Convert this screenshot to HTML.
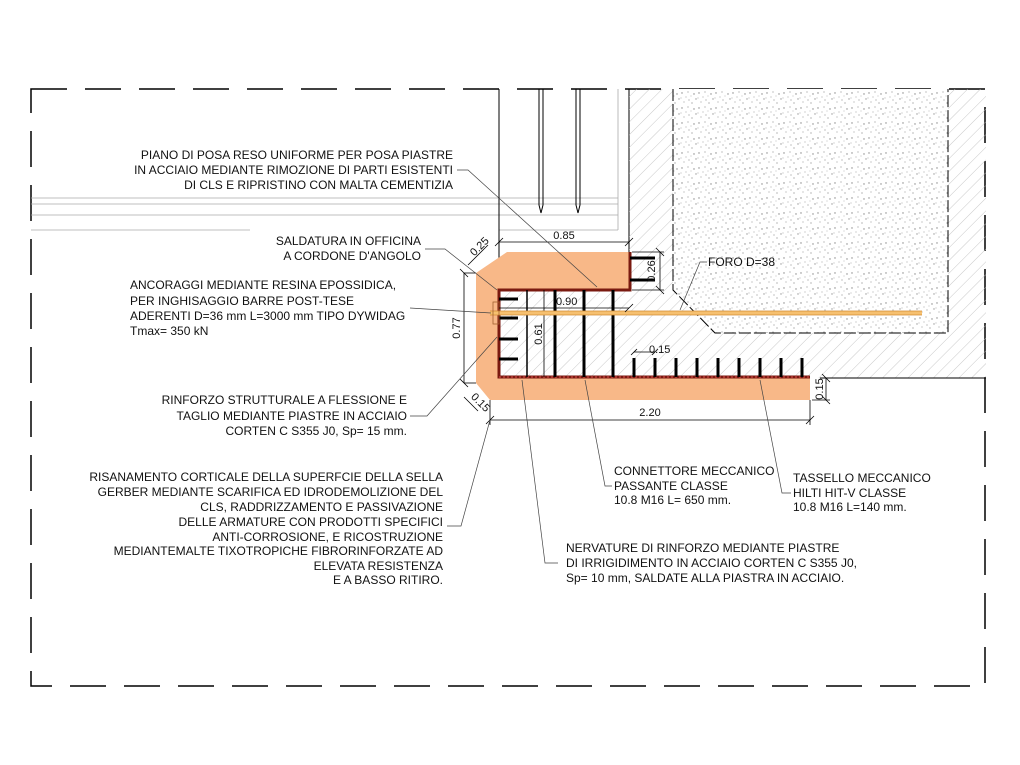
<!DOCTYPE html>
<html><head><meta charset="utf-8"><style>
html,body{margin:0;padding:0;background:#fff;}
svg{display:block;}
text{font-family:"Liberation Sans",sans-serif;font-size:12px;fill:#111;}
.d{font-size:11px;}
</style></head><body>
<svg width="1020" height="765" viewBox="0 0 1020 765" xmlns="http://www.w3.org/2000/svg">
<defs>
<pattern id="h" width="9" height="9" patternUnits="userSpaceOnUse" patternTransform="rotate(45)">
<line x1="0" y1="0" x2="0" y2="9" stroke="#bbb" stroke-width="0.8"/>
</pattern>
<pattern id="dots" width="17" height="15" patternUnits="userSpaceOnUse">
<rect width="17" height="15" fill="#fff"/>
<circle cx="2" cy="3" r="0.7" fill="#888"/><circle cx="9" cy="10" r="0.6" fill="#999"/>
<circle cx="14" cy="4" r="0.7" fill="#888"/><circle cx="12" cy="13" r="0.6" fill="#888"/>
<circle cx="4" cy="12" r="0.6" fill="#aaa"/><circle cx="16" cy="9" r="0.7" fill="#999"/>
<circle cx="8" cy="2" r="0.6" fill="#999"/><circle cx="6" cy="7" r="0.5" fill="#888"/>
<circle cx="11" cy="6" r="0.5" fill="#aaa"/><circle cx="1" cy="8" r="0.5" fill="#999"/>
</pattern>
</defs>

<rect x="31" y="89" width="954" height="597" fill="none" stroke="#000" stroke-width="1.5" stroke-dasharray="36 18"/>

<g stroke="#aaa" stroke-width="0.8" fill="none">
<line x1="31" y1="198" x2="618" y2="198"/>
<line x1="31" y1="204" x2="618" y2="204"/>
<line x1="31" y1="215" x2="618" y2="215"/>
<line x1="31" y1="230" x2="250" y2="230"/>
<line x1="618" y1="89" x2="618" y2="230"/>
<line x1="499" y1="230" x2="618" y2="230"/>
</g>
<g stroke="#000" stroke-width="1" fill="none">
<path d="M539 89 V205 L541 213 L543 205 V89"/>
<path d="M576 89 V205 L578 213 L580 205 V89"/>
<line x1="499" y1="89" x2="499" y2="295"/>
<line x1="629" y1="89" x2="629" y2="290"/>
</g>

<path d="M629 89 H986 V378 H499 V290 H629 Z" fill="url(#h)"/>
<path d="M673 89 H948 V333 H715 L673 290 Z" fill="url(#dots)"/>
<path d="M673 89 V290 L715 333 H948 V89" fill="none" stroke="#000" stroke-width="1" stroke-dasharray="12 3"/>
<line x1="820" y1="378" x2="986" y2="378" stroke="#000" stroke-width="1"/>

<path d="M507 252 H630 V290 H499 V377 H810 V400 H490 L476 383 V273 Z" fill="#f8b888"/>
<path d="M630 252 V290 H499 V377 H810" fill="none" stroke="#7a1a10" stroke-width="3"/>
<path d="M499 377 H810" stroke="#e05050" stroke-width="1" stroke-dasharray="2 2"/>

<g stroke="#000" fill="none">
<line x1="527" y1="290" x2="527" y2="377" stroke-width="1.5"/>
<line x1="544" y1="290" x2="544" y2="377" stroke-width="0.8"/>
<line x1="555" y1="290" x2="555" y2="377" stroke-width="3"/>
<line x1="584" y1="290" x2="584" y2="377" stroke-width="3"/>
<line x1="613" y1="290" x2="613" y2="377" stroke-width="3"/>
<g stroke-width="3">
<line x1="499" y1="299" x2="518" y2="299"/><line x1="499" y1="318" x2="518" y2="318"/>
<line x1="499" y1="339" x2="518" y2="339"/><line x1="499" y1="359" x2="518" y2="359"/>
<line x1="630" y1="258" x2="655" y2="258"/><line x1="630" y1="280" x2="655" y2="280"/>
<line x1="634" y1="358" x2="634" y2="377"/><line x1="655" y1="358" x2="655" y2="377"/>
<line x1="676" y1="358" x2="676" y2="377"/><line x1="697" y1="358" x2="697" y2="377"/>
<line x1="718" y1="358" x2="718" y2="377"/><line x1="739" y1="358" x2="739" y2="377"/>
<line x1="760" y1="358" x2="760" y2="377"/><line x1="781" y1="358" x2="781" y2="377"/>
<line x1="802" y1="358" x2="802" y2="377"/>
</g>
</g>
<rect x="490" y="311" width="432" height="4" fill="#f6c070"/>
<line x1="490" y1="311" x2="922" y2="311" stroke="#d08a30" stroke-width="0.8"/>
<line x1="490" y1="315" x2="922" y2="315" stroke="#d08a30" stroke-width="0.8"/>
<rect x="493" y="302" width="6" height="22" fill="none" stroke="#a06030" stroke-width="0.8"/>

<g stroke="#000" stroke-width="0.8" fill="none">
<line x1="499" y1="242" x2="629" y2="242"/><line x1="495" y1="246" x2="503" y2="238"/><line x1="625" y1="246" x2="633" y2="238"/>
<line x1="632" y1="252" x2="664" y2="252"/><line x1="632" y1="290" x2="664" y2="290"/>
<line x1="660" y1="252" x2="660" y2="290"/><line x1="656" y1="248" x2="664" y2="256"/><line x1="656" y1="286" x2="664" y2="294"/>
<line x1="499" y1="308" x2="629" y2="308"/><line x1="625" y1="312" x2="633" y2="304"/>
<line x1="464" y1="273" x2="464" y2="383"/><line x1="460" y1="269" x2="468" y2="277"/><line x1="460" y1="379" x2="468" y2="387"/>
<line x1="464" y1="273" x2="476" y2="273"/><line x1="464" y1="383" x2="476" y2="383"/>
<line x1="490" y1="420" x2="810" y2="420"/><line x1="486" y1="424" x2="494" y2="416"/><line x1="806" y1="424" x2="814" y2="416"/>
<line x1="490" y1="400" x2="490" y2="425"/><line x1="810" y1="400" x2="810" y2="425"/>
<line x1="826" y1="378" x2="826" y2="400"/><line x1="812" y1="400" x2="830" y2="400"/><line x1="822" y1="374" x2="830" y2="382"/><line x1="822" y1="396" x2="830" y2="404"/>
<line x1="634" y1="352" x2="655" y2="352"/><line x1="631" y1="355" x2="637" y2="349"/><line x1="652" y1="355" x2="658" y2="349"/>
<line x1="468" y1="265" x2="488" y2="245"/><line x1="464" y1="397" x2="478" y2="411"/>
</g>
<text class="d" x="564" y="239" text-anchor="middle">0.85</text>
<text class="d" x="556" y="305">0.90</text>
<text class="d" x="649" y="353">0.15</text>
<text class="d" transform="translate(655 271) rotate(-90)" text-anchor="middle">0.26</text>
<text class="d" transform="translate(460 328) rotate(-90)" text-anchor="middle">0.77</text>
<text class="d" transform="translate(542 334) rotate(-90)" text-anchor="middle">0.61</text>
<text class="d" transform="translate(823 389) rotate(-90)" text-anchor="middle">0.15</text>
<text class="d" transform="translate(482 249) rotate(-45)" text-anchor="middle">0.25</text>
<text class="d" transform="translate(478 405) rotate(45)" text-anchor="middle">0.15</text>
<text class="d" x="650" y="416" text-anchor="middle">2.20</text>

<g stroke="#444" stroke-width="0.7" fill="none">
<path d="M457 170 H468 L597 287"/>
<path d="M425 249 H445 L497 290"/>
<path d="M410 308 L491 313"/>
<path d="M410 416 H427 L497 337"/>
<path d="M447 526 H461 L490 420"/>
<path d="M558 563 H545 L522 380"/>
<path d="M612 486 H605 L585 380"/>
<path d="M791 493 H782 L760 380"/>
<path d="M707 262 H700 L680 310"/>
</g>

<g text-anchor="end">
<text x="453" y="159">PIANO DI POSA RESO UNIFORME PER POSA PIASTRE</text>
<text x="453" y="174">IN ACCIAIO MEDIANTE RIMOZIONE DI PARTI ESISTENTI</text>
<text x="453" y="189">DI CLS E RIPRISTINO CON MALTA CEMENTIZIA</text>
<text x="421" y="245">SALDATURA IN OFFICINA</text>
<text x="421" y="260">A CORDONE D'ANGOLO</text>
<text x="407" y="404">RINFORZO STRUTTURALE A FLESSIONE E</text>
<text x="407" y="420">TAGLIO MEDIANTE PIASTRE IN ACCIAIO</text>
<text x="407" y="435">CORTEN C S355 J0,  Sp= 15 mm.</text>
<text x="443" y="481">RISANAMENTO CORTICALE DELLA SUPERFCIE DELLA SELLA</text>
<text x="443" y="496">GERBER MEDIANTE  SCARIFICA ED IDRODEMOLIZIONE DEL</text>
<text x="443" y="511">CLS, RADDRIZZAMENTO E PASSIVAZIONE</text>
<text x="443" y="526">DELLE ARMATURE CON PRODOTTI SPECIFICI</text>
<text x="443" y="541">ANTI-CORROSIONE, E RICOSTRUZIONE</text>
<text x="443" y="555">MEDIANTEMALTE TIXOTROPICHE FIBRORINFORZATE AD</text>
<text x="443" y="570">ELEVATA RESISTENZA</text>
<text x="443" y="584">E A BASSO RITIRO.</text>
</g>
<text x="130" y="289">ANCORAGGI MEDIANTE RESINA EPOSSIDICA,</text>
<text x="130" y="305">PER INGHISAGGIO BARRE POST-TESE</text>
<text x="130" y="320">ADERENTI D=36 mm L=3000 mm TIPO DYWIDAG</text>
<text x="130" y="335">Tmax= 350 kN</text>
<text x="614" y="475">CONNETTORE MECCANICO</text>
<text x="614" y="490">PASSANTE CLASSE</text>
<text x="614" y="504">10.8 M16 L= 650 mm.</text>
<text x="793" y="482">TASSELLO MECCANICO</text>
<text x="793" y="497">HILTI HIT-V CLASSE</text>
<text x="793" y="511">10.8 M16 L=140 mm.</text>
<text x="566" y="552">NERVATURE DI RINFORZO MEDIANTE PIASTRE</text>
<text x="566" y="567">DI IRRIGIDIMENTO IN ACCIAIO CORTEN C S355 J0,</text>
<text x="566" y="582">Sp= 10 mm, SALDATE ALLA PIASTRA IN ACCIAIO.</text>
<text x="708" y="266">FORO D=38</text>
</svg>
</body></html>
